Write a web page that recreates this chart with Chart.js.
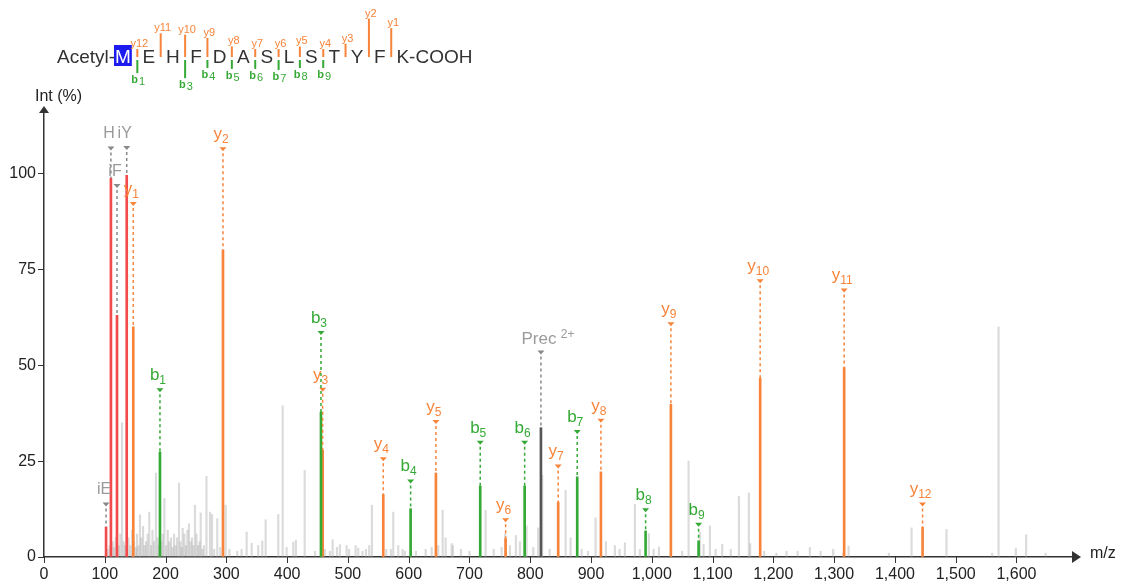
<!DOCTYPE html>
<html>
<head>
<meta charset="utf-8">
<script src="https://cdn.jsdelivr.net/npm/chart.js@4.4.1/dist/chart.umd.min.js"></script>
<style>
  html, body { margin: 0; padding: 0; background: #fff; }
</style>
</head>
<body>
<canvas id="spectrum" width="1124" height="588"></canvas>
<script>
// tick labels
const xTicks = [0, 100, 200, 300, 400, 500, 600, 700, 800, 900, 1000, 1100, 1200, 1300, 1400, 1500, 1600];
const yTicks = [0, 25, 50, 75, 100];

// peptide
const nTerm = 'Acetyl-';
const residues = ['M', 'E', 'H', 'F', 'D', 'A', 'S', 'L', 'S', 'T', 'Y', 'F', 'K'];
const cTerm = '-COOH';

// y ions
const yIonNo = [1, 2, 3, 4, 5, 6, 7, 8, 9, 10, 11, 12];
const yIonMz = [146.9, 294.5, 458.5, 558.2, 644.8, 759.5, 846.0, 916.3, 1031.4, 1178.3, 1316.5, 1445.5];
const yIonInt = [60.0, 80.0, 27.8, 16.3, 21.9, 4.8, 14.3, 22.2, 39.8, 46.6, 49.4, 7.8];
const yIonMark = [92.0, 106.3, 43.6, 25.5, 35.2, 9.6, 23.6, 35.5, 60.7, 71.9, 69.5, 13.7];

// b ions
const bIonNo = [1, 3, 4, 5, 6, 7, 8, 9];
const bIonMz = [190.8, 455.7, 603.2, 717.7, 790.8, 877.3, 989.8, 1077.0];
const bIonInt = [27.4, 37.8, 12.6, 18.5, 18.5, 20.9, 6.8, 4.2];
const bIonMark = [43.5, 58.4, 19.7, 29.8, 29.8, 32.6, 12.2, 8.4];

// immonium ions
const immLabel = ['iE', 'H', 'iF', 'iY'];
const immMz = [102.1, 110.1, 120.1, 136.1];
const immInt = [7.8, 98.7, 63.0, 99.5];
const immMark = [13.7, 106.5, 96.7, 106.6];

// precursor
const precMz = [817.6];
const precInt = [33.7];
const precMark = [53.3];

// unassigned peaks
const greyMz = [128.3, 157.9, 173.2, 184.2, 198, 222.1, 228.2, 238.5, 248.4, 257.8, 267.3, 273.1, 276.4, 285.1, 298.9,
  333.4, 341.7, 352.5, 359.1, 364.7, 385.4, 392.7, 399.2, 410.1, 414.5, 428.9, 470.5, 474.9, 486.9, 497.9, 512.7, 517,
  529.7, 535.1, 539.6, 570.8, 574.6, 582.8, 593.8, 637.8, 648.6, 655.9, 660.8, 670.7, 672.8, 726.6, 752.9, 758.8, 766.6,
  776.4, 783, 794, 813.1, 819.7, 858.2, 866.4, 884.5, 907.5, 924.5, 939.3, 955.8, 972.2, 980.4, 995.2, 1011.7, 1060.5,
  1079.1, 1085.2, 1095.6, 1115.8, 1143.3, 1159.7, 1161.9, 1221.7, 1260.1, 1277.7, 1298.4, 1323.7, 1427.4, 1484.9, 1570.5,
  1599, 1615.9];
const greyInt = [35, 11, 11.7, 21.9, 15.3, 19.3, 7.5, 8.7, 13.5, 11.5, 21, 11.7, 11.1, 10, 13.5,
  6.5, 3.6, 3, 4.2, 9.7, 11.1, 39.4, 2.5, 3.9, 4.4, 22.6, 1.5, 4.5, 3.2, 3, 3, 2.3,
  2, 3, 13.5, 2, 11.7, 3, 1.5, 2.5, 3, 12.2, 5, 3.5, 3, 12.2, 2.5, 6.1, 3,
  5.6, 4, 8.1, 7.6, 21.3, 17.4, 5, 2, 10.2, 4, 3, 3.7, 13.7, 2, 6.1, 2.6, 25,
  6.4, 3.3, 8.1, 3.3, 15.8, 16.7, 3.5, 1.5, 2.5, 1.5, 2, 2.9, 7.6, 7.2, 60,
  2.3, 5.8];

// small noise peaks
const noiseMz = [104.5, 108, 113, 115.5, 118, 123, 125.5, 131, 133.5, 139, 142, 145, 148, 151, 153, 155.5, 160, 163,
  165.5, 168, 170.5, 176, 178.5, 181, 187, 189, 193, 195.5, 201, 203.5, 206, 209, 211.5, 214, 216.5, 219, 224.5, 226.5,
  231, 233.5, 236, 241, 243.5, 246, 251, 253.5, 256, 260.5, 263, 280, 290, 305, 318, 325, 446, 462, 482, 502, 524, 563,
  590, 612, 628, 686, 700, 740, 805, 832, 895, 947, 1003, 1050, 1105, 1130, 1185, 1205, 1240, 1315, 1390, 1560, 1648];
const noiseInt = [2, 3, 4, 2.5, 5, 3, 6, 4, 3, 5, 3, 7, 4, 2.5, 6, 3, 5, 8,
  3, 4, 6, 3, 7, 4, 5, 3, 4, 6, 3, 7, 4, 5, 2.5, 6, 3, 5, 4, 2.5,
  6, 3, 7, 4, 5, 3, 6, 3, 4, 2, 3, 2, 2.5, 2, 1.5, 2, 1.5, 2, 2.5, 2, 1.5, 2,
  2, 1.5, 2, 2, 1.5, 2, 2.5, 2, 1.5, 2, 2, 1.5, 2, 2, 1.5, 1, 1.5, 1, 1, 1, 1];

const FONT = '"Liberation Sans", Arial, sans-serif';
const ORANGE = '#f7843a';
const GREEN = '#35a935';
const RED = '#f24b4b';
const GREY_TXT = '#9a9a9a';
const AXIS = '#333';

function peaks(mz, inten, color, width) {
  return {
    data: mz.map((m, i) => ({ x: m, y: inten[i] })),
    backgroundColor: color,
    borderWidth: 0,
    barThickness: width,
    grouped: false
  };
}

function ionLabel(ctx, px, base, main, sub, color, mainSize, subSize, subShift) {
  ctx.font = mainSize + 'px ' + FONT;
  const mw = ctx.measureText(main).width;
  ctx.font = subSize + 'px ' + FONT;
  const sw = sub ? ctx.measureText(sub).width : 0;
  const x0 = px - (mw + sw) / 2 - 2;
  ctx.fillStyle = color;
  ctx.textAlign = 'left';
  ctx.textBaseline = 'alphabetic';
  ctx.font = mainSize + 'px ' + FONT;
  ctx.fillText(main, x0, base);
  if (sub) {
    ctx.font = subSize + 'px ' + FONT;
    ctx.fillText(sub, x0 + mw, base + subShift);
  }
}

function marker(ctx, xs, ys, mz, inten, mark, color) {
  const px = xs.getPixelForValue(mz);
  const pm = ys.getPixelForValue(mark);
  const pp = ys.getPixelForValue(inten);
  ctx.fillStyle = color;
  ctx.beginPath();
  ctx.moveTo(px - 3.5, pm - 2);
  ctx.lineTo(px + 3.5, pm - 2);
  ctx.lineTo(px, pm + 2);
  ctx.closePath();
  ctx.fill();
  ctx.strokeStyle = color;
  ctx.lineWidth = 1.5;
  ctx.setLineDash([3, 3]);
  ctx.beginPath();
  ctx.moveTo(px, pm + 4);
  ctx.lineTo(px, pp);
  ctx.stroke();
  ctx.setLineDash([]);
  return { px: px, top: pm - 2 };
}

const decor = {
  id: 'decor',
  afterDatasetsDraw(chart) {
    const ctx = chart.ctx;
    const xs = chart.scales.x, ys = chart.scales.y;
    ctx.save();

    immMz.forEach((m, i) => {
      const p = marker(ctx, xs, ys, m, immInt[i], immMark[i], '#888');
      ionLabel(ctx, p.px, p.top - 8, immLabel[i], '', GREY_TXT, 16, 11, 0);
    });
    yIonMz.forEach((m, i) => {
      const p = marker(ctx, xs, ys, m, yIonInt[i], yIonMark[i], ORANGE);
      ionLabel(ctx, p.px, p.top - 8, 'y', String(yIonNo[i]), ORANGE, 17, 12, 4);
    });
    bIonMz.forEach((m, i) => {
      const p = marker(ctx, xs, ys, m, bIonInt[i], bIonMark[i], GREEN);
      ionLabel(ctx, p.px, p.top - 8, 'b', String(bIonNo[i]), GREEN, 17, 12, 4);
    });
    precMz.forEach((m, i) => {
      const p = marker(ctx, xs, ys, m, precInt[i], precMark[i], '#888');
      ctx.font = '17px ' + FONT;
      const w = ctx.measureText('Prec').width;
      ctx.fillStyle = GREY_TXT;
      ctx.textAlign = 'left';
      ctx.fillText('Prec', p.px - w / 2 - 2, p.top - 7);
      ctx.font = '12px ' + FONT;
      ctx.fillText(' 2+', p.px + w / 2 - 1, p.top - 13);
    });
    ctx.restore();
  },
  afterDraw(chart) {
    const ctx = chart.ctx;
    const a = chart.chartArea;
    const xs = chart.scales.x, ys = chart.scales.y;
    ctx.save();

    // tick marks
    ctx.strokeStyle = AXIS;
    ctx.lineWidth = 1;
    ctx.beginPath();
    xTicks.forEach(v => {
      const px = Math.round(xs.getPixelForValue(v)) + 0.5;
      ctx.moveTo(px, a.bottom);
      ctx.lineTo(px, a.bottom + 6);
    });
    yTicks.forEach(v => {
      const py = Math.round(ys.getPixelForValue(v)) + 0.5;
      ctx.moveTo(a.left - 6, py);
      ctx.lineTo(a.left, py);
    });
    ctx.stroke();

    // axis arrows
    ctx.fillStyle = AXIS;
    ctx.beginPath();
    ctx.moveTo(a.right - 1, a.bottom - 6);
    ctx.lineTo(a.right + 8, a.bottom);
    ctx.lineTo(a.right - 1, a.bottom + 6);
    ctx.closePath();
    ctx.fill();
    ctx.beginPath();
    ctx.moveTo(a.left - 5, a.top + 1);
    ctx.lineTo(a.left, a.top - 6);
    ctx.lineTo(a.left + 5, a.top + 1);
    ctx.closePath();
    ctx.fill();

    // axis titles
    ctx.fillStyle = '#222';
    ctx.font = '16px ' + FONT;
    ctx.textBaseline = 'middle';
    ctx.textAlign = 'left';
    ctx.fillText('Int (%)', 35, 97);
    ctx.fillText('m/z', 1090, 554);

    // sequence header
    ctx.textBaseline = 'alphabetic';
    ctx.font = '19px ' + FONT;
    ctx.fillStyle = '#333';
    ctx.fillText(nTerm, 57, 63);
    let x = 114;
    const cuts = [];
    residues.forEach((r, i) => {
      const w = ctx.measureText(r).width;
      if (i === 0) {
        ctx.fillStyle = '#1c1cf0';
        ctx.fillRect(x, 45, w + 2, 21);
        ctx.fillStyle = '#fff';
        ctx.fillText(r, x + 1, 63);
        ctx.fillStyle = '#333';
        x += w + 2;
      } else {
        ctx.fillText(r, x, 63);
        x += w;
      }
      if (i < residues.length - 1) {
        cuts.push(x + 5.5);
        x += 10.7;
      }
    });
    ctx.fillText(cTerm, x, 63);

    ctx.lineWidth = 2;
    yIonNo.forEach((n, i) => {
      const cx = cuts[residues.length - 1 - n];
      const len = Math.max(8, 0.48 * yIonInt[i]);
      ctx.strokeStyle = ORANGE;
      ctx.beginPath();
      ctx.moveTo(cx, 57);
      ctx.lineTo(cx, 57 - len);
      ctx.stroke();
      ctx.fillStyle = ORANGE;
      ctx.font = '11px ' + FONT;
      ctx.textAlign = 'center';
      ctx.fillText('y' + n, cx + 2, 57 - len - 2);
    });
    bIonNo.forEach((n, i) => {
      const cx = cuts[n - 1];
      const len = Math.max(8, 0.48 * bIonInt[i]);
      ctx.strokeStyle = GREEN;
      ctx.beginPath();
      ctx.moveTo(cx, 60);
      ctx.lineTo(cx, 60 + len);
      ctx.stroke();
      ctx.fillStyle = GREEN;
      ctx.textAlign = 'left';
      ctx.font = 'bold 11px ' + FONT;
      const bw = ctx.measureText('b').width;
      ctx.fillText('b', cx - 6, 60 + len + 10);
      ctx.font = '11px ' + FONT;
      ctx.fillText(String(n), cx - 6 + bw + 1, 60 + len + 12);
    });
    ctx.restore();
  }
};

const config = {
  type: 'bar',
  data: {
    datasets: [
      peaks(precMz, precInt, '#555', 2),
      peaks(bIonMz, bIonInt, GREEN, 2),
      peaks(yIonMz, yIonInt, ORANGE, 2),
      peaks(immMz, immInt, RED, 2),
      peaks(greyMz, greyInt, 'rgba(175,175,175,0.45)', 1.5),
      peaks(noiseMz, noiseInt, 'rgba(150,150,150,0.35)', 1.5)
    ]
  },
  options: {
    responsive: false,
    animation: false,
    devicePixelRatio: 1,
    layout: { padding: { top: 112, right: 51, left: 0, bottom: 0 } },
    plugins: { legend: { display: false }, tooltip: { enabled: false } },
    scales: {
      x: {
        type: 'linear',
        min: 0,
        max: 1693,
        offset: false,
        afterBuildTicks: s => { s.ticks = xTicks.map(v => ({ value: v })); },
        afterFit: s => { s.height = 31; },
        grid: { display: true, drawOnChartArea: false, drawTicks: false, tickLength: 6 },
        border: { color: AXIS, width: 1.5 },
        ticks: {
          color: '#222', font: { family: FONT, size: 16 }, padding: 8,
          maxRotation: 0, autoSkip: false,
          callback: v => v.toLocaleString('en-US')
        }
      },
      y: {
        min: 0,
        max: 116,
        afterBuildTicks: s => { s.ticks = yTicks.map(v => ({ value: v })); },
        afterFit: s => { s.width = 44; },
        grid: { display: true, drawOnChartArea: false, drawTicks: false, tickLength: 6 },
        border: { color: AXIS, width: 1.5 },
        ticks: { color: '#222', font: { family: FONT, size: 16 }, padding: 8 }
      }
    }
  },
  plugins: [decor]
};

const chart = new Chart(document.getElementById('spectrum'), config);
</script>
</body>
</html>
